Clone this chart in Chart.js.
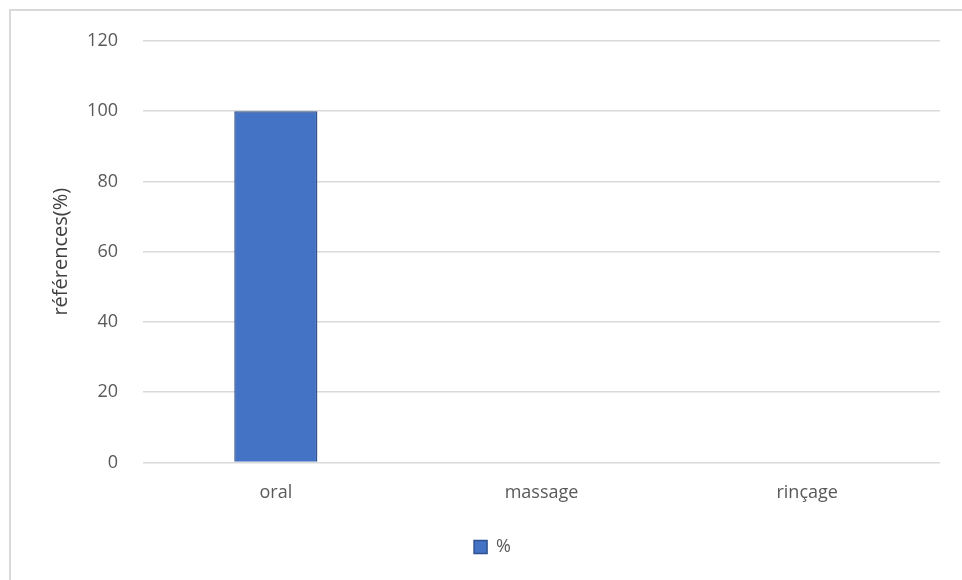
<!DOCTYPE html>
<html>
<head>
<meta charset="utf-8">
<script src="https://cdn.jsdelivr.net/npm/chart.js@4/dist/chart.umd.min.js"></script>
<style>
  html, body { margin: 0; padding: 0; background: #fff; overflow: hidden; }
  #frame {
    position: absolute; left: 9px; top: 9px; width: 1000px; height: 600px;
    border-left: 2px solid #d9d9d9; border-top: 2px solid #d9d9d9;
  }
  #wrap { position: absolute; left: 0; top: 0; width: 962px; height: 580px; }
</style>
</head>
<body>
<div id="frame"></div>
<div id="wrap"><canvas id="chart" width="962" height="580"></canvas></div>
<script>
const categories = ['oral', 'massage', 'rinçage'];
const percentValues = [100, 0, 0];
const seriesLabel = '%';
const yAxisTitle = 'références(%)';

const ctx = document.getElementById('chart').getContext('2d');

new Chart(ctx, {
    type: 'bar',
    data: {
        labels: categories,
        datasets: [
            {
                label: seriesLabel,
                data: percentValues,
                backgroundColor: '#4472c4',
                borderColor: '#2f528f',
                borderWidth: 1.5,
                barPercentage: 0.313,
                categoryPercentage: 1
            }
        ]
    },
    options: {
        responsive: false,
        animation: false,
        layout: {
            padding: { left: 45, right: 22, top: 41, bottom: 14 }
        },
        scales: {
            x: {
                border: { display: false },
                grid: { display: false, drawTicks: false },
                ticks: {
                    color: '#595959',
                    padding: 20,
                    font: { family: 'Open Sans', size: 18 }
                }
            },
            y: {
                min: 0,
                max: 120,
                border: { display: false },
                grid: { color: '#d9d9d9', lineWidth: 1.5, drawTicks: false },
                ticks: {
                    stepSize: 20,
                    color: '#595959',
                    padding: 25,
                    font: { family: 'Open Sans', size: 18 }
                },
                title: {
                    display: true,
                    text: yAxisTitle,
                    color: '#404040',
                    padding: 4,
                    font: { family: 'Open Sans', size: 20 }
                },
                afterFit: scale => { scale.width = 98; }
            }
        },
        plugins: {
            legend: {
                position: 'bottom',
                labels: {
                    color: '#595959',
                    boxWidth: 13,
                    boxHeight: 13,
                    padding: 14,
                    font: { family: 'Open Sans', size: 18 }
                }
            },
            tooltip: { enabled: false }
        }
    }
});
</script>
</body>
</html>
